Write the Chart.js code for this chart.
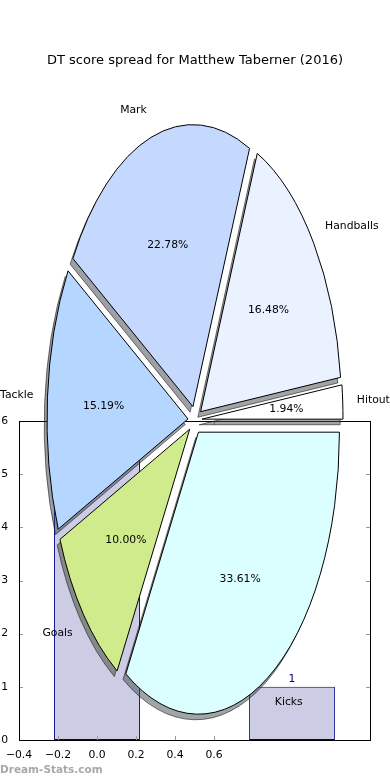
<!DOCTYPE html>
<html>
<head>
<meta charset="utf-8">
<script src="https://cdn.jsdelivr.net/npm/chart.js@4.4.1/dist/chart.umd.min.js"></script>
<style>
    html, body { margin: 0; padding: 0; background: #fff; overflow: hidden; }
    #wrap { position: relative; width: 390px; height: 780px; }
    #wrap canvas { position: absolute; left: 0; top: 0; }
    #marca { position: absolute; left: 0; top: 763px; font: bold 10.5px "DejaVu Sans"; color: #a8a8a8; }
</style>
</head>
<body>
<div id="wrap">
    <canvas id="grafica-barras" width="390" height="780"></canvas>
    <canvas id="grafica-pastel" width="390" height="780"></canvas>
    <div id="marca">Dream-Stats.com</div>
</div>
<script>
// pastel, en el orden de matplotlib (antihorario desde las 3 en punto)
const categorias = ["Hitout", "Handballs", "Mark", "Tackle", "Goals", "Kicks"];
const porcentajes = [1.94, 16.48, 22.78, 15.19, 10.00, 33.61];
const coloresPastel = ["#ffffff", "#eaf1ff", "#c5d9ff", "#b5d7ff", "#d0eb8b", "#dbffff"];

// barras que quedan debajo del pastel
const barrasX = [0, 1];
const barrasY = [6, 1];
const ticksX = [-0.4, -0.2, 0.0, 0.2, 0.4, 0.6];
const ticksY = [0, 1, 2, 3, 4, 5, 6];

const titulo = "DT score spread for Matthew Taberner (2016)";

Chart.defaults.font.family = "DejaVu Sans";
Chart.defaults.color = "#000";

const elipse = 2;       // el pastel sale estirado en vertical
const separacion = 7;   // explode
const anchoBarra = 0.44; // en unidades del eje x
const pasoX = 0.2;       // chart.js mide el hueco entre ticks
const fuente = '10.8px "DejaVu Sans"';

function formatoX(v) {
    return (v < 0 ? "\u2212" : "") + Math.abs(v).toFixed(1);
}

//* Grafica de barras (fondo)
const marcoEjes = {
    id: "marcoEjes",
    afterDatasetsDraw(chart) {
        const ctx = chart.ctx;
        const { left, right, top, bottom } = chart.chartArea;
        const sx = chart.scales.x, sy = chart.scales.y;
        ctx.save();
        // valor encima de cada barra
        ctx.fillStyle = "#00008b";
        ctx.font = fuente;
        ctx.textAlign = "center";
        ctx.textBaseline = "bottom";
        chart.getDatasetMeta(0).data.forEach((barra, i) => {
            ctx.fillText(String(barrasY[i]), barra.x, sy.getPixelForValue(barrasY[i] * 1.05));
        });
        // ticks hacia dentro
        ctx.strokeStyle = "#999";
        ctx.lineWidth = 1;
        ctx.beginPath();
        ticksY.forEach(v => {
            const y = Math.round(sy.getPixelForValue(v)) + 0.5;
            ctx.moveTo(left, y); ctx.lineTo(left + 4, y);
            ctx.moveTo(right - 4, y); ctx.lineTo(right, y);
        });
        ticksX.forEach(v => {
            const x = Math.round(sx.getPixelForValue(v)) + 0.5;
            ctx.moveTo(x, bottom); ctx.lineTo(x, bottom - 4);
            ctx.moveTo(x, top); ctx.lineTo(x, top + 4);
        });
        ctx.stroke();
        // marco
        ctx.strokeStyle = "#000";
        ctx.strokeRect(Math.round(left) + 0.5, Math.round(top) + 0.5, Math.round(right - left), Math.round(bottom - top));
        ctx.restore();
    }
};

new Chart(document.getElementById("grafica-barras"), {
    type: "bar",
    data: {
        datasets: [{
            data: barrasX.map((x, i) => ({ x: x, y: barrasY[i] })),
            backgroundColor: "#ccccE5",
            borderColor: "#00008b",
            borderWidth: 1,
            borderSkipped: false,
            barPercentage: anchoBarra / pasoX,
            categoryPercentage: 1
        }]
    },
    options: {
        responsive: false,
        animation: false,
        events: [],
        layout: { padding: { top: 421, right: 20, left: 0, bottom: 0 } },
        plugins: { legend: { display: false }, tooltip: { enabled: false } },
        scales: {
            x: {
                type: "linear",
                min: -0.4,
                max: 1.4,
                offset: false,
                grid: { display: false },
                border: { display: false },
                afterBuildTicks: s => { s.ticks = ticksX.map(v => ({ value: v })); },
                afterFit: s => { s.height = 40; },
                ticks: { padding: 1, maxRotation: 0, autoSkip: false, font: { size: 10.8 }, callback: v => formatoX(v) }
            },
            y: {
                min: 0,
                max: 6,
                grid: { display: false },
                border: { display: false },
                afterBuildTicks: s => { s.ticks = ticksY.map(v => ({ value: v })); },
                afterFit: s => { s.width = 19; },
                ticks: { padding: 3, font: { size: 10.8 }, callback: v => String(v) }
            }
        }
    },
    plugins: [marcoEjes]
});

//* Grafica de pastel (encima)
function transformaElipse(ctx, chart) {
    const a = chart.chartArea;
    const cx = (a.left + a.right) / 2, cy = (a.top + a.bottom) / 2;
    ctx.translate(cx, cy);
    ctx.scale(1, elipse);
    ctx.translate(-cx, -cy);
}

const trazoOriginal = CanvasRenderingContext2D.prototype.stroke;

const pastelElipse = {
    id: "pastelElipse",
    afterDatasetUpdate(chart, args) {
        // separar cada porcion (explode) sin agrandar el radio
        args.meta.data.forEach(arc => {
            const mid = (arc.startAngle + arc.endAngle) / 2;
            arc.x += Math.cos(mid) * separacion;
            arc.y += Math.sin(mid) * separacion;
        });
    },
    beforeDatasetsDraw(chart) {
        const ctx = chart.ctx;
        const arcs = chart.getDatasetMeta(0).data;
        ctx.save();
        // el borde se traza sin la escala, para que no engorde
        ctx.stroke = function () {
            this.save();
            this.setTransform(1, 0, 0, 1, 0, 0);
            trazoOriginal.call(this);
            this.restore();
        };
        // sombras primero, debajo de todas las porciones
        ctx.save();
        ctx.translate(-2.8, 5.6);
        transformaElipse(ctx, chart);
        ctx.filter = "brightness(30%)";
        ctx.globalAlpha = 0.5;
        arcs.forEach(arc => arc.draw(ctx));
        ctx.restore();
        transformaElipse(ctx, chart);
    },
    afterDatasetsDraw(chart) {
        delete chart.ctx.stroke;
        chart.ctx.restore();
    },
    afterDraw(chart) {
        const ctx = chart.ctx;
        const arcs = chart.getDatasetMeta(0).data;
        const a = chart.chartArea;
        const cy = (a.top + a.bottom) / 2;
        const etiquetas = chart.data.labels;
        const valores = chart.data.datasets[0].data;
        ctx.save();
        ctx.font = fuente;
        ctx.fillStyle = "#000";
        ctx.textBaseline = "middle";
        arcs.forEach((arc, i) => {
            const mid = (arc.startAngle + arc.endAngle) / 2;
            const c = Math.cos(mid), s = Math.sin(mid);
            const R = arc.outerRadius;
            const punto = d => [arc.x + d * R * c, cy + elipse * (arc.y + d * R * s - cy)];
            let [x, y] = punto(1.1);
            ctx.textAlign = c > 0 ? "left" : "right";
            ctx.fillText(etiquetas[i], x, y);
            [x, y] = punto(0.6);
            ctx.textAlign = "center";
            ctx.fillText(valores[i].toFixed(2) + "%", x, y);
        });
        ctx.restore();
    }
};

new Chart(document.getElementById("grafica-pastel"), {
    type: "pie",
    data: {
        labels: [...categorias].reverse(),
        datasets: [{
            data: [...porcentajes].reverse(),
            backgroundColor: [...coloresPastel].reverse(),
            borderColor: "#000",
            borderWidth: 1,
            borderJoinStyle: "miter",
            hoverOffset: 0
        }]
    },
    options: {
        responsive: false,
        animation: false,
        events: [],
        rotation: 90,
        radius: 141,
        layout: { padding: { top: 0, bottom: 8.8, left: 0, right: 0 } },
        plugins: {
            legend: { display: false },
            tooltip: { enabled: false },
            title: {
                display: true,
                text: titulo,
                color: "#000",
                font: { size: 13, weight: "normal" },
                padding: { top: 53.2, bottom: 0 }
            }
        }
    },
    plugins: [pastelElipse]
});
</script>
</body>
</html>
